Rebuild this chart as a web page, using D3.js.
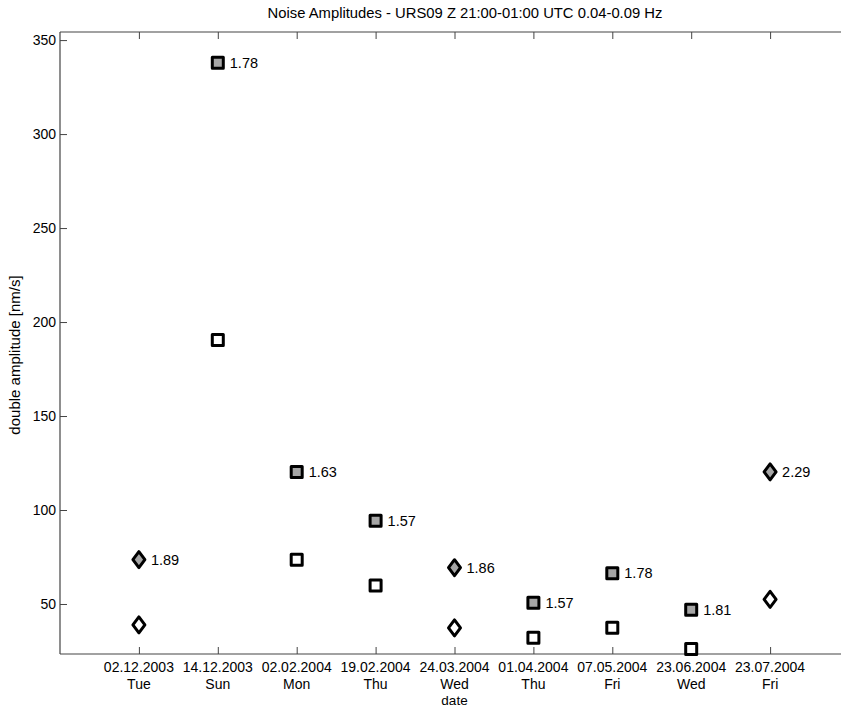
<!DOCTYPE html>
<html>
<head>
<meta charset="utf-8">
<script src="https://cdn.jsdelivr.net/npm/d3@7"></script>
<style>
  html, body { margin: 0; padding: 0; background: #fff; }
  svg { display: block; font-family: "Liberation Sans", Arial, sans-serif; }
</style>
</head>
<body>
<svg id="chart" width="841" height="708"></svg>
<script>
// Observation dates and weekdays (x categories)
const dates = ["02.12.2003", "14.12.2003", "02.02.2004", "19.02.2004", "24.03.2004",
               "01.04.2004", "07.05.2004", "23.06.2004", "23.07.2004"];
const weekdays = ["Tue", "Sun", "Mon", "Thu", "Wed", "Thu", "Fri", "Wed", "Fri"];
// Marker shape per date
const shapes = ["diamond", "square", "square", "square", "diamond",
                "square", "square", "square", "diamond"];
// Upper (grey) and lower (open) double amplitudes, nm/s
const upperAmp = [73.6, 337.9, 120.2, 94.3, 69.3, 50.7, 66.3, 47.0, 120.3];
const lowerAmp = [38.9, 190.4, 73.6, 59.9, 37.3, 32.1, 37.3, 26.0, 52.5];
// Ratio upper/lower printed beside the grey markers
const ratios = ["1.89", "1.78", "1.63", "1.57", "1.86", "1.57", "1.78", "1.81", "2.29"];
const yTicks = [50, 100, 150, 200, 250, 300, 350];

(function () {
const svg = d3.select("#chart");
const mLeft = 60, mTop = 32, mBottom = 654, mRight = 849;

const x = d3.scaleLinear().domain([0, dates.length + 1]).range([mLeft, mRight]);
const y = d3.scaleLinear().domain([23.4, 354.3]).range([mBottom, mTop]);

const axisColor = "#444";

// Title
svg.append("text")
  .attr("x", 465).attr("y", 18)
  .attr("text-anchor", "middle")
  .attr("font-size", 14.8)
  .text("Noise Amplitudes - URS09 Z 21:00-01:00 UTC 0.04-0.09 Hz");

// Plot frame (left, top, bottom)
const g = svg.append("g");
g.append("line").attr("x1", mLeft).attr("x2", mRight).attr("y1", mTop).attr("y2", mTop)
  .attr("stroke", axisColor).attr("stroke-width", 1.2);
g.append("line").attr("x1", mLeft).attr("x2", mRight).attr("y1", mBottom).attr("y2", mBottom)
  .attr("stroke", axisColor).attr("stroke-width", 1.2);
g.append("line").attr("x1", mLeft).attr("x2", mLeft).attr("y1", mTop).attr("y2", mBottom)
  .attr("stroke", axisColor).attr("stroke-width", 1.2);

// Y axis with inward ticks
const yAxis = d3.axisLeft(y).tickValues(yTicks).tickSize(-7).tickPadding(4);
const yg = svg.append("g").attr("transform", `translate(${mLeft},0)`).call(yAxis);
yg.select(".domain").remove();
yg.selectAll(".tick line").attr("stroke", axisColor);
yg.selectAll(".tick text").attr("font-size", 14).attr("fill", "#000")
  .attr("font-family", "Liberation Sans, Arial, sans-serif");

// X positions
const idx = dates.map((d, i) => i + 1);

// Bottom ticks (inward) and two-line labels
const xAxis = d3.axisBottom(x).tickValues(idx).tickSize(-7).tickFormat(() => "");
const xg = svg.append("g").attr("transform", `translate(0,${mBottom})`).call(xAxis);
xg.select(".domain").remove();
xg.selectAll(".tick line").attr("stroke", axisColor);

// Top ticks (inward)
const xTop = d3.axisTop(x).tickValues(idx).tickSize(-7).tickFormat(() => "");
const xtg = svg.append("g").attr("transform", `translate(0,${mTop})`).call(xTop);
xtg.select(".domain").remove();
xtg.selectAll(".tick line").attr("stroke", axisColor);

const labels = svg.append("g");
idx.forEach((v, i) => {
  labels.append("text").attr("x", x(v)).attr("y", mBottom + 18)
    .attr("text-anchor", "middle").attr("font-size", 14).text(dates[i]);
  labels.append("text").attr("x", x(v)).attr("y", mBottom + 35)
    .attr("text-anchor", "middle").attr("font-size", 14).text(weekdays[i]);
});

// Axis titles
svg.append("text").attr("x", x(5)).attr("y", 705)
  .attr("text-anchor", "middle").attr("font-size", 13.5).text("date");
svg.append("text")
  .attr("transform", `translate(20,355) rotate(-90)`)
  .attr("text-anchor", "middle").attr("font-size", 15)
  .text("double amplitude [nm/s]");

// Marker shapes
function markerPath(shape) {
  if (shape === "diamond") {
    return "M0,-8 L6,0 L0,8 L-6,0 Z";
  }
  return "M-5.5,-5.5 L5.5,-5.5 L5.5,5.5 L-5.5,5.5 Z";
}

const marks = svg.append("g");
// Lower (open) markers
marks.selectAll("path.lower").data(lowerAmp).join("path")
  .attr("class", "lower")
  .attr("transform", (d, i) => `translate(${x(idx[i])},${y(d)})`)
  .attr("d", (d, i) => markerPath(shapes[i]))
  .attr("fill", "#fff").attr("stroke", "#000").attr("stroke-width", 3)
  .attr("stroke-linejoin", "round");

// Upper (grey) markers
marks.selectAll("path.upper").data(upperAmp).join("path")
  .attr("class", "upper")
  .attr("transform", (d, i) => `translate(${x(idx[i])},${y(d)})`)
  .attr("d", (d, i) => markerPath(shapes[i]))
  .attr("fill", "#a6a6a6").attr("stroke", "#000").attr("stroke-width", 3)
  .attr("stroke-linejoin", "round");

// Ratio labels
marks.selectAll("text.ratio").data(upperAmp).join("text")
  .attr("class", "ratio")
  .attr("x", (d, i) => x(idx[i]) + 12)
  .attr("y", d => y(d) + 5)
  .attr("font-size", 14.5)
  .text((d, i) => ratios[i]);
})();
</script>
</body>
</html>
